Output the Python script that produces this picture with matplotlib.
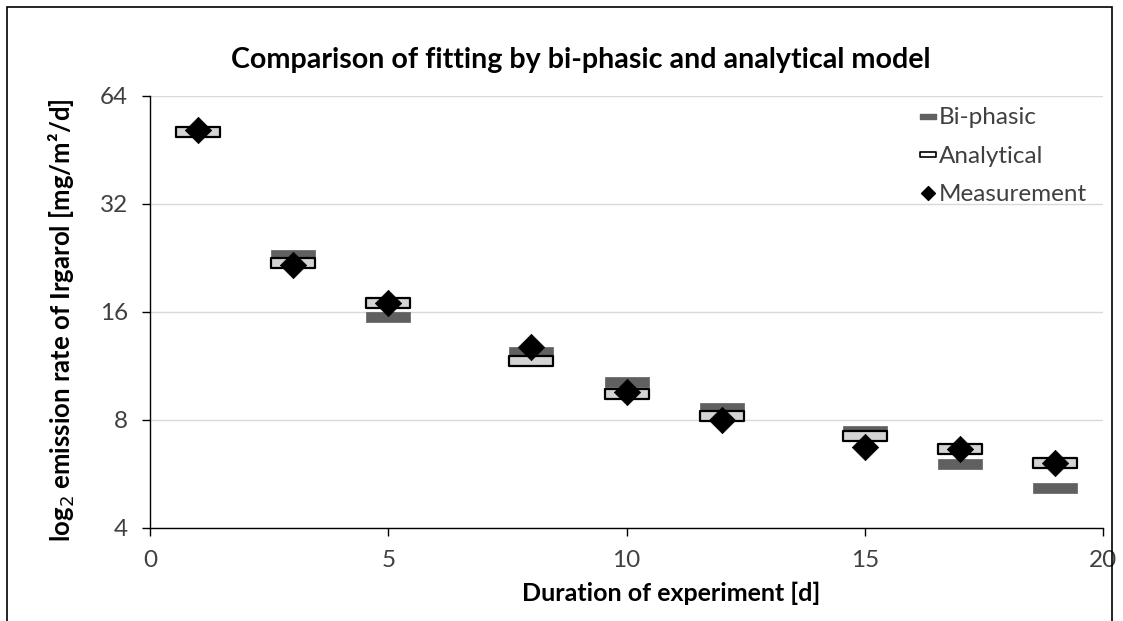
import matplotlib
matplotlib.use("Agg")
import matplotlib.pyplot as plt
from matplotlib.path import Path
from matplotlib.lines import Line2D
from matplotlib.patches import Rectangle
from matplotlib.ticker import FixedLocator, FixedFormatter, NullLocator

plt.rcParams['font.family'] = ['Lato', 'DejaVu Sans']

days = [1, 3, 5, 8, 10, 12, 15, 17, 19]
biphasic = [51.1, 23.1, 15.5, 12.4, 10.2, 8.64, 7.45, 6.05, 5.16]
analytical = [50.8, 21.9, 16.9, 11.7, 9.45, 8.2, 7.2, 6.64, 6.07]
measurement = [51.5, 21.7, 17.0, 12.8, 9.6, 8.0, 6.73, 6.66, 6.07]

y_ticks = [4, 8, 16, 32, 64]
x_ticks = [0, 5, 10, 15, 20]

W, H = 1123, 621
fig = plt.figure(figsize=(W/100, H/100), dpi=100)
ax = fig.add_axes([150/W, 1-528/H, (1103-150)/W, (528-96)/H])

r = 0.244
rect = Path([(-1, -r), (1, -r), (1, r), (-1, r), (-1, -r)],
            [Path.MOVETO, Path.LINETO, Path.LINETO, Path.LINETO, Path.CLOSEPOLY])
diamond = Path([(0, 1), (1, 0), (0, -1), (-1, 0), (0, 1)],
               [Path.MOVETO, Path.LINETO, Path.LINETO, Path.LINETO, Path.CLOSEPOLY])

ax.plot(days, biphasic, linestyle='none', marker=rect, markersize=32,
        markerfacecolor='#606060', markeredgecolor='#606060', markeredgewidth=0.5, zorder=3)
ax.plot(days, analytical, linestyle='none', marker=rect, markersize=31,
        markerfacecolor='#d4d4d4', markeredgecolor='black', markeredgewidth=1.6, zorder=4)
ax.plot(days, measurement, linestyle='none', marker=diamond, markersize=19,
        markerfacecolor='black', markeredgecolor='black', markeredgewidth=0.5, zorder=5)

ax.set_yscale('log', base=2)
ax.set_ylim(4, 64)
ax.set_xlim(0, 20)
ax.yaxis.set_major_locator(FixedLocator(y_ticks))
ax.yaxis.set_major_formatter(FixedFormatter([str(v) for v in y_ticks]))
ax.yaxis.set_minor_locator(NullLocator())
ax.set_xticks(x_ticks)
ax.set_xticklabels([str(v) for v in x_ticks])

ax.grid(axis='y', color='#d9d9d9', linewidth=1.0, zorder=0)
ax.set_axisbelow(True)
for s in ['top', 'right']:
    ax.spines[s].set_visible(False)
for s in ['left', 'bottom']:
    ax.spines[s].set_color('black')
    ax.spines[s].set_linewidth(1.0)
ax.tick_params(axis='both', direction='out', length=6, width=1.0, colors='black',
               labelcolor='#404040', labelsize=17.5)
ax.tick_params(axis='x', pad=10)
ax.tick_params(axis='y', pad=10)

fig.text(581/W, 1-60/H, 'Comparison of fitting by bi-phasic and analytical model',
         fontsize=20.6, fontweight='bold', ha='center', va='center')
fig.text(671/W, 1-593/H, 'Duration of experiment [d]', fontsize=18,
         fontweight='bold', ha='center', va='center')
fig.text(62/W, 1-320/H, 'log$_2$ emission rate of Irgarol [mg/m²/d]', fontsize=18.5,
         fontweight='bold', ha='center', va='center', rotation=90)

r2 = 0.3
rect_leg = Path([(-1, -r2), (1, -r2), (1, r2), (-1, r2), (-1, -r2)],
                [Path.MOVETO, Path.LINETO, Path.LINETO, Path.LINETO, Path.CLOSEPOLY])
handles = [
    Line2D([], [], linestyle='none', marker=rect_leg, markersize=12,
           markerfacecolor='#606060', markeredgecolor='#606060'),
    Line2D([], [], linestyle='none', marker=rect_leg, markersize=12,
           markerfacecolor='white', markeredgecolor='black', markeredgewidth=1.2),
    Line2D([], [], linestyle='none', marker=diamond, markersize=10,
           markerfacecolor='black', markeredgecolor='black'),
]
leg = ax.legend(handles, ['Bi-phasic', 'Analytical', 'Measurement'],
                loc='upper right', bbox_to_anchor=(1.006, 1.025), frameon=False,
                fontsize=17.5, handlelength=0.7, handletextpad=0.1, labelspacing=0.72,
                labelcolor='#404040')

fig.patches.append(Rectangle((7/W, -0.05), (1112-7)/W, 1.05 - 7/H,
                             transform=fig.transFigure, fill=False,
                             edgecolor='black', linewidth=1.2))

fig.savefig('out.png', dpi=100)
